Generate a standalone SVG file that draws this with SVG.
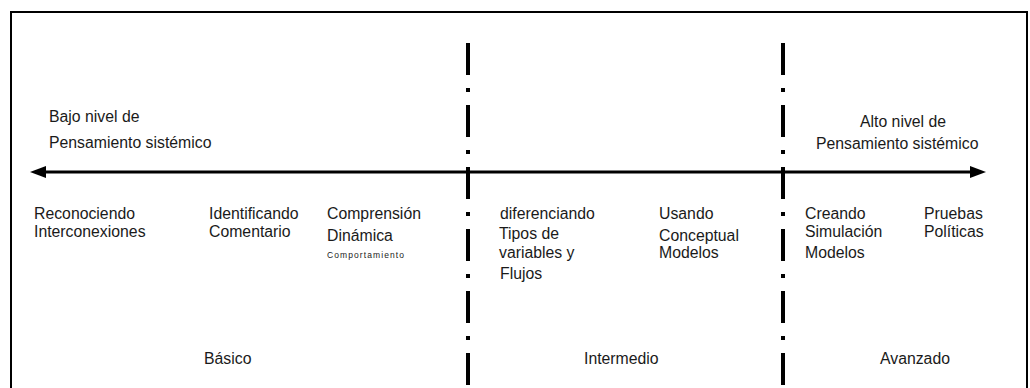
<svg xmlns="http://www.w3.org/2000/svg" width="1030" height="388" viewBox="0 0 1030 388">
  <style>
    text { font-family: "Liberation Sans", Arial, sans-serif; font-size: 15.8px; fill: #1a1a1a; }
    .small { font-size: 8.5px; }
    .divider { stroke: #000; stroke-width: 4; stroke-dasharray: 32 13 4 13; fill: none; }
    .axis { stroke: #000; stroke-width: 3; fill: none; }
  </style>
  <defs>
    <marker id="head" viewBox="0 0 16 12" refX="2" refY="6" markerWidth="16" markerHeight="12" markerUnits="userSpaceOnUse" orient="auto-start-reverse">
      <path d="M0,0 L16,6 L0,12 Z" fill="#000"/>
    </marker>
  </defs>
  <rect x="0" y="0" width="1030" height="388" fill="#fff"/>
  <rect id="frame" x="11" y="12" width="1016" height="400" fill="none" stroke="#000" stroke-width="2"/>

  <g id="connectors">
    <line class="axis" x1="44" y1="172" x2="972" y2="172" marker-start="url(#head)" marker-end="url(#head)"/>
    <line class="divider" x1="468" y1="43" x2="468" y2="392"/>
    <line class="divider" x1="783" y1="43" x2="783" y2="392"/>
  </g>

  <g id="low-level">
    <text x="49" y="122">Bajo nivel de</text>
    <text x="49" y="148">Pensamiento sistémico</text>
  </g>
  <g id="high-level">
    <text x="860" y="127">Alto nivel de</text>
    <text x="816" y="149">Pensamiento sistémico</text>
  </g>

  <g id="reconociendo">
    <text x="34" y="219">Reconociendo</text>
    <text x="34" y="237">Interconexiones</text>
  </g>
  <g id="identificando">
    <text x="209" y="219">Identificando</text>
    <text x="209" y="237">Comentario</text>
  </g>
  <g id="comprension">
    <text x="327" y="219">Comprensión</text>
    <text x="327" y="241">Dinámica</text>
    <text class="small" x="327" y="258" textLength="77" lengthAdjust="spacing">Comportamiento</text>
  </g>
  <g id="diferenciando">
    <text x="500" y="219">diferenciando</text>
    <text x="499" y="239">Tipos de</text>
    <text x="499" y="258">variables y</text>
    <text x="500" y="279">Flujos</text>
  </g>
  <g id="usando">
    <text x="659" y="219">Usando</text>
    <text x="659" y="241">Conceptual</text>
    <text x="659" y="258">Modelos</text>
  </g>
  <g id="creando">
    <text x="805" y="219">Creando</text>
    <text x="805" y="237">Simulación</text>
    <text x="805" y="258">Modelos</text>
  </g>
  <g id="pruebas">
    <text x="924" y="219">Pruebas</text>
    <text x="924" y="237">Políticas</text>
  </g>

  <g id="basico"><text x="204" y="364">Básico</text></g>
  <g id="intermedio"><text x="584" y="364">Intermedio</text></g>
  <g id="avanzado"><text x="880" y="364">Avanzado</text></g>
</svg>
